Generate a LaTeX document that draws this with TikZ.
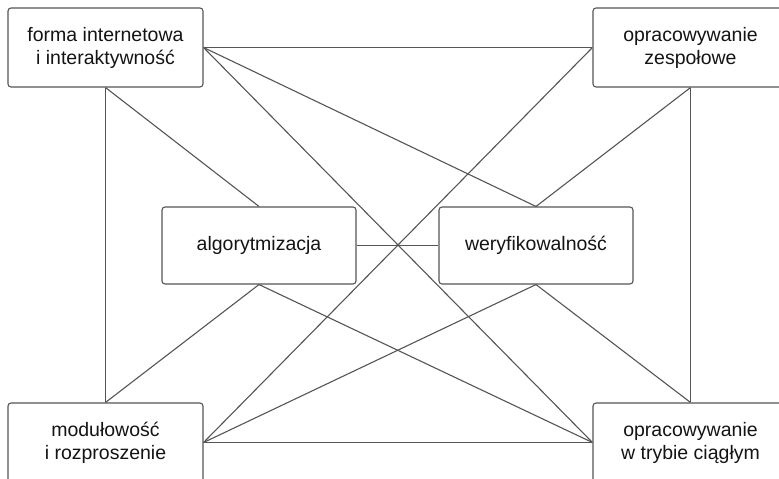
\documentclass[tikz,border=0pt]{standalone}
\usepackage{fontspec}
\setmainfont{Liberation Sans}
\definecolor{lin}{RGB}{85,85,85}
\definecolor{txt}{RGB}{20,20,20}
\begin{document}
\begin{tikzpicture}[x=1pt,y=-1pt,
  box/.style={draw=lin, line width=1.1pt, rounded corners=3pt, fill=white,
    minimum width=195pt, minimum height=79pt, inner sep=0pt, align=center,
    text=txt, font=\fontsize{19.5pt}{23pt}\selectfont},
  conn/.style={draw=lin, line width=1.1pt}]
\useasboundingbox (0,0) rectangle (779,479);
\node[box] (tl) at (105.5,47.5) {forma internetowa\\i interaktywność};
\node[box] (tr) at (690.5,47.5) {opracowywanie\\zespołowe};
\node[box] (bl) at (105.5,442.5) {modułowość\\i rozproszenie};
\node[box] (br) at (690.5,442.5) {opracowywanie\\w trybie ciągłym};
\node[box, minimum width=194pt, minimum height=77pt] (al) at (259,245.5) {algorytmizacja};
\node[box, minimum width=194pt, minimum height=77pt] (we) at (536,245.5) {weryfikowalność};
\begin{scope}[on background layer/.try]
\end{scope}
\draw[conn] (tl.south) -- (bl.north);
\draw[conn] (tl.south) -- (al.north);
\draw[conn] (tl.east) -- (tr.west);
\draw[conn] (tl.east) -- (we.north);
\draw[conn] (tl.east) -- (br.west);
\draw[conn] (tr.west) -- (bl.east);
\draw[conn] (tr.south) -- (we.north);
\draw[conn] (tr.south) -- (br.north);
\draw[conn] (al.east) -- (we.west);
\draw[conn] (al.south) -- (bl.north);
\draw[conn] (al.south) -- (br.west);
\draw[conn] (we.south) -- (bl.east);
\draw[conn] (we.south) -- (br.north);
\draw[conn] (bl.east) -- (br.west);
\end{tikzpicture}
\end{document}
